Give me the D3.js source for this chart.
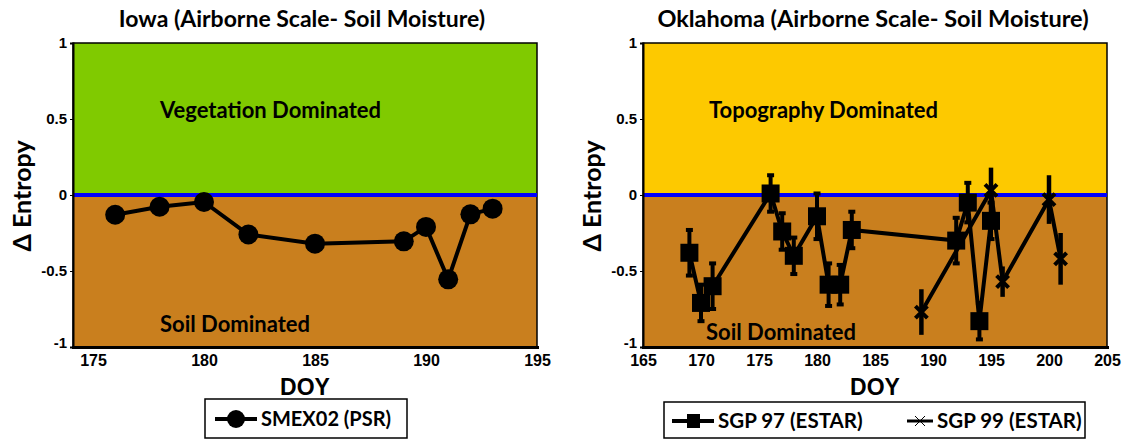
<!DOCTYPE html>
<html>
<head>
<meta charset="utf-8">
<script src="https://cdn.jsdelivr.net/npm/d3@7"></script>
<style>
  body { margin: 0; background: #fff; }
  svg text { font-family: Lato, "Open Sans", sans-serif; font-weight: 700; fill: #000; }
  .tick text { font-family: "Liberation Sans", Arial, sans-serif; font-weight: 700; font-size: 15px; }
</style>
</head>
<body>
<svg id="chart" width="1128" height="441"></svg>
<script>
// Iowa, SMEX02 (PSR)
var smexDoy = [176, 178, 180, 182, 185, 189, 190, 191, 192, 193];
var smexVal = [-0.13, -0.077, -0.046, -0.26, -0.32, -0.305, -0.21, -0.555, -0.127, -0.09];

// Oklahoma, SGP 97 (ESTAR)
var sgp97Doy = [169, 170, 171, 176, 177, 178, 180, 181, 182, 183, 192, 193, 194, 195];
var sgp97Val = [-0.38, -0.71, -0.6, 0.01, -0.24, -0.4, -0.14, -0.59, -0.59, -0.23, -0.3, -0.05, -0.83, -0.17];
var sgp97Err = [0.15, 0.12, 0.15, 0.12, 0.12, 0.12, 0.15, 0.14, 0.13, 0.12, 0.15, 0.13, 0.12, 0.12];

// Oklahoma, SGP 99 (ESTAR)
var sgp99Doy = [189, 195, 196, 200, 201];
var sgp99Val = [-0.77, 0.03, -0.57, -0.03, -0.42];
var sgp99Err = [0.15, 0.15, 0.1, 0.16, 0.17];

var yTicks = [-1, -0.5, 0, 0.5, 1];
var leftTicks = [175, 180, 185, 190, 195];
var rightTicks = [165, 170, 175, 180, 185, 190, 195, 200, 205];

var svg = d3.select("#chart");

function panel(opts) {
    var x = d3.scaleLinear().domain(opts.xDomain).range([opts.left, opts.right]);
    var y = d3.scaleLinear().domain([-1, 1]).range([347, 43]);
    var g = svg.append("g");

    // background zones
    g.append("rect")
        .attr("x", x.range()[0]).attr("y", y(1))
        .attr("width", x.range()[1] - x.range()[0]).attr("height", y(0) - y(1))
        .attr("fill", opts.topColor);
    g.append("rect")
        .attr("x", x.range()[0]).attr("y", y(0))
        .attr("width", x.range()[1] - x.range()[0]).attr("height", y(-1) - y(0))
        .attr("fill", "#C97F1E");

    // frame
    g.append("rect")
        .attr("x", x.range()[0]).attr("y", y(1))
        .attr("width", x.range()[1] - x.range()[0]).attr("height", y(-1) - y(1))
        .attr("fill", "none").attr("stroke", "#000").attr("stroke-width", 1.5);

    // zero line
    g.append("line")
        .attr("x1", x.range()[0]).attr("x2", x.range()[1])
        .attr("y1", y(0)).attr("y2", y(0))
        .attr("stroke", "#0000FF").attr("stroke-width", 4);

    // zone labels
    g.append("text").attr("x", opts.topLabelX).attr("y", 118)
        .style("font-size", "22px").text(opts.topLabel);
    g.append("text").attr("x", opts.soilLabelX).attr("y", opts.soilLabelY)
        .style("font-size", "22px").text("Soil Dominated");

    // axes
    g.append("g")
        .attr("transform", "translate(" + x.range()[0] + ",0)")
        .call(d3.axisLeft(y).tickValues(yTicks).tickFormat(function (d) { return String(d); }).tickSize(3))
        .call(function (a) {
            a.select(".domain").attr("stroke-width", 2);
            // keep "-1" clear of the first DOY label
            a.selectAll(".tick text").filter(function (d) { return d === -1; }).attr("dy", "0.05em");
        });
    g.append("g")
        .attr("transform", "translate(0," + y(-1) + ")")
        .call(d3.axisBottom(x).tickValues(opts.xTicks).tickSize(2).tickPadding(6))
        .call(function (a) {
            a.select(".domain").attr("stroke-width", 3);
            a.selectAll(".tick text").style("font-size", "16px");
        });

    // titles
    g.append("text").attr("x", opts.titleX).attr("y", 27)
        .attr("text-anchor", "middle").style("font-size", opts.titleSize).text(opts.title);
    g.append("text").attr("x", (x.range()[0] + x.range()[1]) / 2).attr("y", 395)
        .attr("text-anchor", "middle")
        .style("font-family", "'Liberation Sans', Arial, sans-serif")
        .style("font-size", "23px").text("DOY");
    g.append("text")
        .attr("transform", "translate(" + opts.yLabelX + ",196) rotate(-90)")
        .attr("text-anchor", "middle").style("font-size", "25px").text("\u0394 Entropy");

    return { g: g, x: x, y: y };
}

// ---------- left: Iowa ----------
var L = panel({
    xDomain: [174.1, 195], left: 73, right: 537, xTicks: leftTicks,
    topColor: "#80CA00", topLabel: "Vegetation Dominated", topLabelX: 160,
    soilLabelX: 160, soilLabelY: 332,
    title: "Iowa (Airborne Scale- Soil Moisture)", titleX: 302, titleSize: "23px", yLabelX: 31
});

var smex = smexDoy.map(function (d, i) { return [d, smexVal[i]]; });
L.g.append("path")
    .datum(smex)
    .attr("d", d3.line().x(function (d) { return L.x(d[0]); }).y(function (d) { return L.y(d[1]); }))
    .attr("fill", "none").attr("stroke", "#000").attr("stroke-width", 4);
L.g.selectAll("circle.pt").data(smex).enter().append("circle")
    .attr("class", "pt")
    .attr("cx", function (d) { return L.x(d[0]); })
    .attr("cy", function (d) { return L.y(d[1]); })
    .attr("r", 10).attr("fill", "#000");

// ---------- right: Oklahoma ----------
var R = panel({
    xDomain: [165, 205], left: 643, right: 1107, xTicks: rightTicks,
    topColor: "#FDC900", topLabel: "Topography Dominated", topLabelX: 709,
    soilLabelX: 706, soilLabelY: 340,
    title: "Oklahoma (Airborne Scale- Soil Moisture)", titleX: 873, titleSize: "23.5px", yLabelX: 601
});

var lineR = d3.line().x(function (d) { return R.x(d[0]); }).y(function (d) { return R.y(d[1]); });
var s97 = sgp97Doy.map(function (d, i) { return [d, sgp97Val[i], sgp97Err[i]]; });
var s99 = sgp99Doy.map(function (d, i) { return [d, sgp99Val[i], sgp99Err[i]]; });

// SGP 97 error bars
var eb97 = R.g.selectAll("g.eb97").data(s97).enter().append("g").attr("class", "eb97");
eb97.append("line")
    .attr("x1", function (d) { return R.x(d[0]); }).attr("x2", function (d) { return R.x(d[0]); })
    .attr("y1", function (d) { return R.y(d[1] + d[2]); }).attr("y2", function (d) { return R.y(d[1] - d[2]); })
    .attr("stroke", "#000").attr("stroke-width", 4);
[1, -1].forEach(function (s) {
    eb97.append("line")
        .attr("x1", function (d) { return R.x(d[0]) - 3.5; }).attr("x2", function (d) { return R.x(d[0]) + 3.5; })
        .attr("y1", function (d) { return R.y(d[1] + s * d[2]); }).attr("y2", function (d) { return R.y(d[1] + s * d[2]); })
        .attr("stroke", "#000").attr("stroke-width", 4);
});

// SGP 99 error bars
R.g.selectAll("line.eb99").data(s99).enter().append("line")
    .attr("class", "eb99")
    .attr("x1", function (d) { return R.x(d[0]); }).attr("x2", function (d) { return R.x(d[0]); })
    .attr("y1", function (d) { return R.y(d[1] + d[2]); }).attr("y2", function (d) { return R.y(d[1] - d[2]); })
    .attr("stroke", "#000").attr("stroke-width", 4.5);

R.g.append("path").datum(s97).attr("d", lineR)
    .attr("fill", "none").attr("stroke", "#000").attr("stroke-width", 4);
R.g.append("path").datum(s99).attr("d", lineR)
    .attr("fill", "none").attr("stroke", "#000").attr("stroke-width", 4);

R.g.selectAll("rect.sq").data(s97).enter().append("rect")
    .attr("class", "sq")
    .attr("x", function (d) { return R.x(d[0]) - 9; })
    .attr("y", function (d) { return R.y(d[1]) - 9; })
    .attr("width", 18).attr("height", 18).attr("fill", "#000");

R.g.selectAll("path.cross").data(s99).enter().append("path")
    .attr("class", "cross")
    .attr("transform", function (d) { return "translate(" + R.x(d[0]) + "," + R.y(d[1]) + ")"; })
    .attr("d", "M-6,-6L6,6M-6,6L6,-6")
    .attr("stroke", "#000").attr("stroke-width", 4);

// ---------- legends ----------
var lg1 = svg.append("g");
lg1.append("rect").attr("x", 205).attr("y", 399).attr("width", 202).attr("height", 39)
    .attr("fill", "#fff").attr("stroke", "#000").attr("stroke-width", 1.5);
lg1.append("line").attr("x1", 215).attr("x2", 257).attr("y1", 419).attr("y2", 419)
    .attr("stroke", "#000").attr("stroke-width", 4);
lg1.append("circle").attr("cx", 236).attr("cy", 419).attr("r", 9).attr("fill", "#000");
lg1.append("text").attr("x", 261).attr("y", 426).style("font-size", "20px").text("SMEX02 (PSR)");

var lg2 = svg.append("g");
lg2.append("rect").attr("x", 664).attr("y", 402).attr("width", 421).attr("height", 36)
    .attr("fill", "#fff").attr("stroke", "#000").attr("stroke-width", 1.5);
lg2.append("line").attr("x1", 672).attr("x2", 714).attr("y1", 421).attr("y2", 421)
    .attr("stroke", "#000").attr("stroke-width", 4);
lg2.append("rect").attr("x", 687).attr("y", 414).attr("width", 13).attr("height", 14).attr("fill", "#000");
lg2.append("text").attr("x", 718).attr("y", 428).style("font-size", "20.5px").text("SGP 97 (ESTAR)");
lg2.append("line").attr("x1", 907).attr("x2", 933).attr("y1", 421).attr("y2", 421)
    .attr("stroke", "#000").attr("stroke-width", 3);
lg2.append("path").attr("transform", "translate(920,421)").attr("d", "M-5,-5L5,5M-5,5L5,-5")
    .attr("stroke", "#000").attr("stroke-width", 1);
lg2.append("text").attr("x", 937).attr("y", 428).style("font-size", "20.5px").text("SGP 99 (ESTAR)");
</script>
</body>
</html>
